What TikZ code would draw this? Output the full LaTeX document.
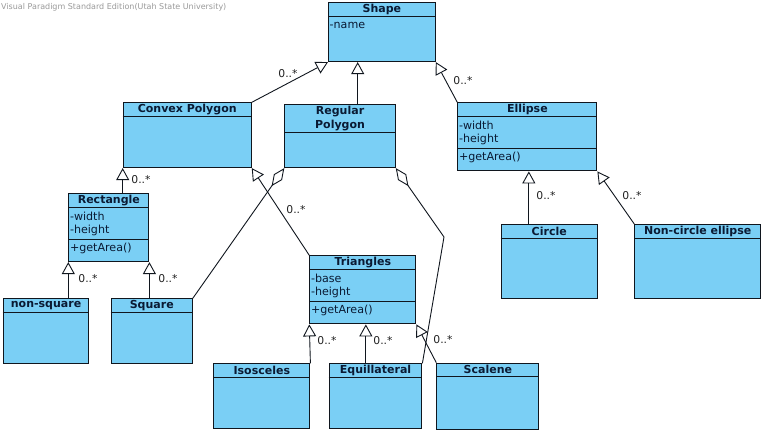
\documentclass[tikz,border=0pt]{standalone}
\usepackage{fontspec}
\setmainfont{DejaVu Sans}
\usetikzlibrary{arrows.meta}
\definecolor{boxc}{HTML}{7ACFF5}
\definecolor{linec}{HTML}{10161E}
\definecolor{txtc}{HTML}{0A1A33}
\definecolor{labc}{HTML}{222222}
\definecolor{wmc}{HTML}{9A9A9A}
\tikzset{
  cls/.style={draw=linec, fill=boxc, line width=1.1pt, inner sep=0pt, anchor=north west},
  clsline/.style={draw=linec, line width=1.1pt},
  hdr/.style={font=\fontsize{11}{14}\selectfont\bfseries, text=txtc, inner sep=0pt, align=center},
  attr/.style={font=\fontsize{11.1}{14}\selectfont, text=txtc, inner sep=0pt, anchor=west},
  lab/.style={font=\fontsize{10.8}{12}\selectfont, text=labc, inner sep=0pt},
  gen/.style={draw=linec, line width=0.9pt, -{Triangle[length=12pt, width=13pt, fill=white, line width=0.9pt]}},
  agg/.style={draw=linec, line width=0.9pt, {Diamond[length=22pt, width=10pt, fill=white, line width=0.9pt]}-},
}
\newcommand\klass[5]{\node[cls, minimum width=#4pt, minimum height=#5pt] (#1) at (#2,#3) {};}
\newcommand\divline[2]{\draw[clsline] ([yshift=-#2pt]#1.north west) -- ([yshift=-#2pt]#1.north east);}
\newcommand\hdrtext[3]{\node[hdr] (#1t) at ([yshift=-#2pt]#1.north) {#3};}
\newcommand\attrtext[4]{\node[attr] (#1#2) at ([xshift=1.5pt, yshift=-#3pt]#1.north west) {#4};}
\begin{document}
\begin{tikzpicture}[x=1pt, y=-1pt]
\useasboundingbox[fill=white] (0,0) rectangle (764,432);
\node[font=\fontsize{8}{9}\selectfont, text=wmc, inner sep=0pt, anchor=west] (wm) at (1,7) {Visual Paradigm Standard Edition(Utah State University)};

% classes
\klass{shape}{328}{2.3}{106.7}{58.7}
\divline{shape}{14}
\hdrtext{shape}{7}{Shape}
\attrtext{shape}{a}{23.4}{-name}

\klass{cp}{122.7}{102.3}{128}{64.7}
\divline{cp}{14}
\hdrtext{cp}{7}{Convex Polygon}

\klass{reg}{284.3}{104.3}{110.4}{62.7}
\divline{reg}{28}
\hdrtext{reg}{13.8}{Regular\\Polygon}

\klass{ell}{457.3}{102.3}{139}{68}
\divline{ell}{14}
\divline{ell}{46}
\hdrtext{ell}{7}{Ellipse}
\attrtext{ell}{a}{22.7}{-width}
\attrtext{ell}{b}{36.7}{-height}
\attrtext{ell}{c}{54.7}{+getArea()}

\klass{rect}{68.3}{193.3}{80}{67.7}
\divline{rect}{14}
\divline{rect}{46}
\hdrtext{rect}{7}{Rectangle}
\attrtext{rect}{a}{22.7}{-width}
\attrtext{rect}{b}{36.7}{-height}
\attrtext{rect}{c}{54.7}{+getArea()}

\klass{ns}{2.7}{298.3}{85.6}{64.7}
\divline{ns}{14}
\hdrtext{ns}{7}{non-square}

\klass{sq}{110.7}{298.3}{81}{64.7}
\divline{sq}{14}
\hdrtext{sq}{7}{Square}

\klass{tri}{309.3}{255.3}{106}{68}
\divline{tri}{14}
\divline{tri}{46.4}
\hdrtext{tri}{7}{Triangles}
\attrtext{tri}{a}{22.7}{-base}
\attrtext{tri}{b}{36.7}{-height}
\attrtext{tri}{c}{55}{+getArea()}

\klass{iso}{213.3}{363.3}{96}{64.7}
\divline{iso}{14}
\hdrtext{iso}{7}{Isosceles}

\klass{eq}{328.7}{363.3}{92.6}{64.7}
\divline{eq}{14}
\hdrtext{eq}{7}{Equillateral}

\klass{sc}{436.3}{362.7}{102}{66}
\divline{sc}{14}
\hdrtext{sc}{7}{Scalene}

\klass{circ}{500.7}{224}{96}{74.3}
\divline{circ}{14.7}
\hdrtext{circ}{7.3}{Circle}

\klass{nc}{634.3}{224}{125.7}{74.3}
\divline{nc}{14.7}
\hdrtext{nc}{7.3}{Non-circle ellipse}

% generalizations
\draw[gen] (cp.north east) -- (shape.south west);
\draw[gen] ([xshift=73.4pt]reg.north west) -- ([xshift=73.4pt]reg.north west |- shape.south);
\draw[gen] (ell.north west) -- (shape.south east);
\draw[gen] (rect.north -| cp.south west) -- (cp.south west);
\draw[gen] (tri.north west) -- (cp.south east);
\draw[gen] (ns.north -| rect.south west) -- (rect.south west);
\draw[gen] (sq.north -| rect.south east) -- (rect.south east);
\draw[gen] (iso.north east) -- (tri.south west);
\draw[gen] ([xshift=3pt]eq.north -| tri.south) -- ([xshift=3pt]tri.south);
\draw[gen] (sc.north west) -- (tri.south east);
\draw[gen] ([xshift=1.5pt]circ.north -| ell.south) -- ([xshift=1.5pt]ell.south);
\draw[gen] (nc.north west) -- (ell.south east);

% aggregations
\coordinate (bend) at (444,237);
\draw[agg] (reg.south west) -- (sq.north east);
\draw[agg] (reg.south east) -- (bend) -- (eq.north east);

% multiplicities
\node[lab] (m1) at (288,74) {0..*};
\node[lab] (m2) at (463,81) {0..*};
\node[lab] (m3) at (141,180) {0..*};
\node[lab] (m4) at (296,210) {0..*};
\node[lab] (m5) at (88,279) {0..*};
\node[lab] (m6) at (168,279) {0..*};
\node[lab] (m7) at (327,341) {0..*};
\node[lab] (m8) at (383,341) {0..*};
\node[lab] (m9) at (443,340) {0..*};
\node[lab] (m10) at (546,196) {0..*};
\node[lab] (m11) at (632,196) {0..*};
\end{tikzpicture}
\end{document}
